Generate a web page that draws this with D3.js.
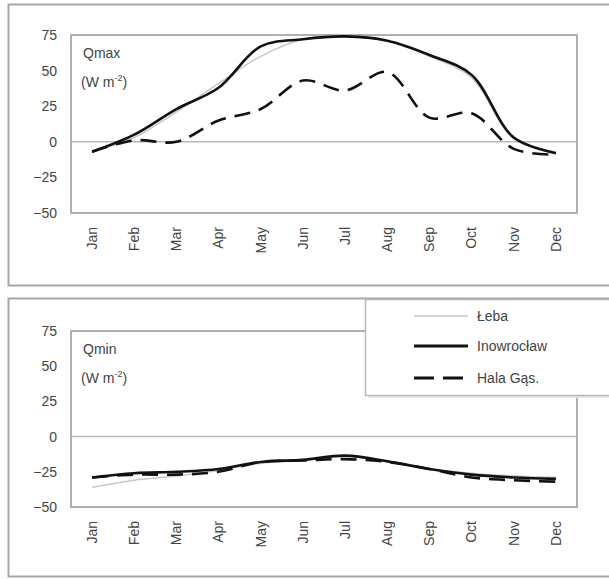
<!DOCTYPE html>
<html><head><meta charset="utf-8">
<script src="https://cdn.jsdelivr.net/npm/d3@7"></script>
<style>body{margin:0;background:#fff}svg{display:block}</style>
</head><body>
<svg id="c" width="609" height="579"></svg>
<script>
const months = ["Jan","Feb","Mar","Apr","May","Jun","Jul","Aug","Sep","Oct","Nov","Dec"];
const yTicks = [75,50,25,0,-25,-50];
const seriesNames = ["Łeba","Inowrocław","Hala Gąs."];
// Qmax (W m-2)
const qmaxLeba = [-7, 3, 21, 41, 60, 72, 74, 71, 60, 45, 2, -7];
const qmaxInowroclaw = [-7, 5, 23, 38, 67, 72, 74, 71, 61, 47, 3, -8];
const qmaxHala = [-7, 1, 0, 15, 23, 43, 36, 49, 17, 20, -5, -9];
// Qmin (W m-2)
const qminLeba = [-36, -31, -28, -24, -19, -17, -14, -18, -23, -26, -28, -29];
const qminInowroclaw = [-29, -26, -25, -23, -18, -16.5, -13.5, -17.5, -23, -27, -29, -30];
const qminHala = [-29, -27, -27, -25, -18, -17, -16, -18, -23, -29, -31, -32];

const svg = d3.select("#c");
const font = "Liberation Sans, Arial, sans-serif";
const styles = [
  {stroke:"#c8c8c8", width:1.5, dash:null},
  {stroke:"#111", width:2.6, dash:null},
  {stroke:"#111", width:2.6, dash:"16,9"}
];

// outer frames
svg.append("rect").attr("x",8.5).attr("y",4.5).attr("width",640).attr("height",281)
  .attr("fill","none").attr("stroke","#a8a8a8").attr("stroke-width",2);
svg.append("rect").attr("x",8.5).attr("y",298.5).attr("width",640).attr("height",278)
  .attr("fill","none").attr("stroke","#a8a8a8").attr("stroke-width",2);

function panel(top, bottom, label, data){
  const left = 71, right = 577;
  const x = d3.scaleBand().domain(months).range([left,right]);
  const y = d3.scaleLinear().domain([-50,75]).range([bottom,top]);
  const g = svg.append("g");
  g.append("rect").attr("x",left).attr("y",top).attr("width",right-left).attr("height",bottom-top)
    .attr("fill","none").attr("stroke","#b0b0b0").attr("stroke-width",2);
  g.append("line").attr("x1",left).attr("x2",right).attr("y1",y(0)).attr("y2",y(0))
    .attr("stroke","#b8b8b8").attr("stroke-width",1.5);
  const ya = g.append("g").attr("transform",`translate(${left},0)`)
    .call(d3.axisLeft(y).tickValues(yTicks).tickSize(0).tickPadding(14));
  ya.select(".domain").remove();
  ya.selectAll("text").attr("font-family",font).attr("font-size",14).attr("fill","#444");
  const xa = g.append("g").attr("transform",`translate(0,${bottom})`)
    .call(d3.axisBottom(x).tickSize(0));
  xa.select(".domain").remove();
  xa.selectAll("text").attr("font-family",font).attr("font-size",14).attr("fill","#444")
    .attr("transform","rotate(-90)").attr("text-anchor","end")
    .attr("x",-14).attr("y",0).attr("dy","0.35em");
  const line = d3.line().x((d,i)=>x(months[i])+x.bandwidth()/2).y(d=>y(d))
    .curve(d3.curveCatmullRom.alpha(0.5));
  data.forEach((s,k)=>{
    g.append("path").attr("d",line(s)).attr("fill","none")
      .attr("stroke",styles[k].stroke).attr("stroke-width",styles[k].width)
      .attr("stroke-dasharray",styles[k].dash).attr("stroke-linejoin","round");
  });
  g.append("text").attr("font-family",font).attr("font-size",14).attr("fill","#444")
    .attr("x",83).attr("y",top+23).text(label);
  const t2 = g.append("text").attr("font-family",font).attr("font-size",14).attr("fill","#444")
    .attr("x",81).attr("y",top+52);
  t2.append("tspan").text("(W m");
  t2.append("tspan").attr("font-size",9).attr("dy",-6).text("-2");
  t2.append("tspan").attr("dy",6).text(")");
}

panel(35, 213, "Qmax", [qmaxLeba, qmaxInowroclaw, qmaxHala]);
panel(331, 507, "Qmin", [qminLeba, qminInowroclaw, qminHala]);

// legend
const lg = svg.append("g");
lg.append("rect").attr("x",368).attr("y",302).attr("width",260).attr("height",96)
  .attr("fill","#e8e8e8");
lg.append("rect").attr("x",365.5).attr("y",299.5).attr("width",260).attr("height",96)
  .attr("fill","#fff").attr("stroke","#b8b8b8").attr("stroke-width",1.5);
const ly = [316, 346, 378];
seriesNames.forEach((n,k)=>{
  lg.append("line").attr("x1",414).attr("x2",468).attr("y1",ly[k]).attr("y2",ly[k])
    .attr("stroke",styles[k].stroke).attr("stroke-width",styles[k].width+(k>0?0.5:0))
    .attr("stroke-dasharray",k===2?"20,9":null);
  lg.append("text").attr("x",477).attr("y",ly[k]).attr("dy","0.35em")
    .attr("font-family",font).attr("font-size",14).attr("fill","#444").text(n);
});
</script>
</body></html>
